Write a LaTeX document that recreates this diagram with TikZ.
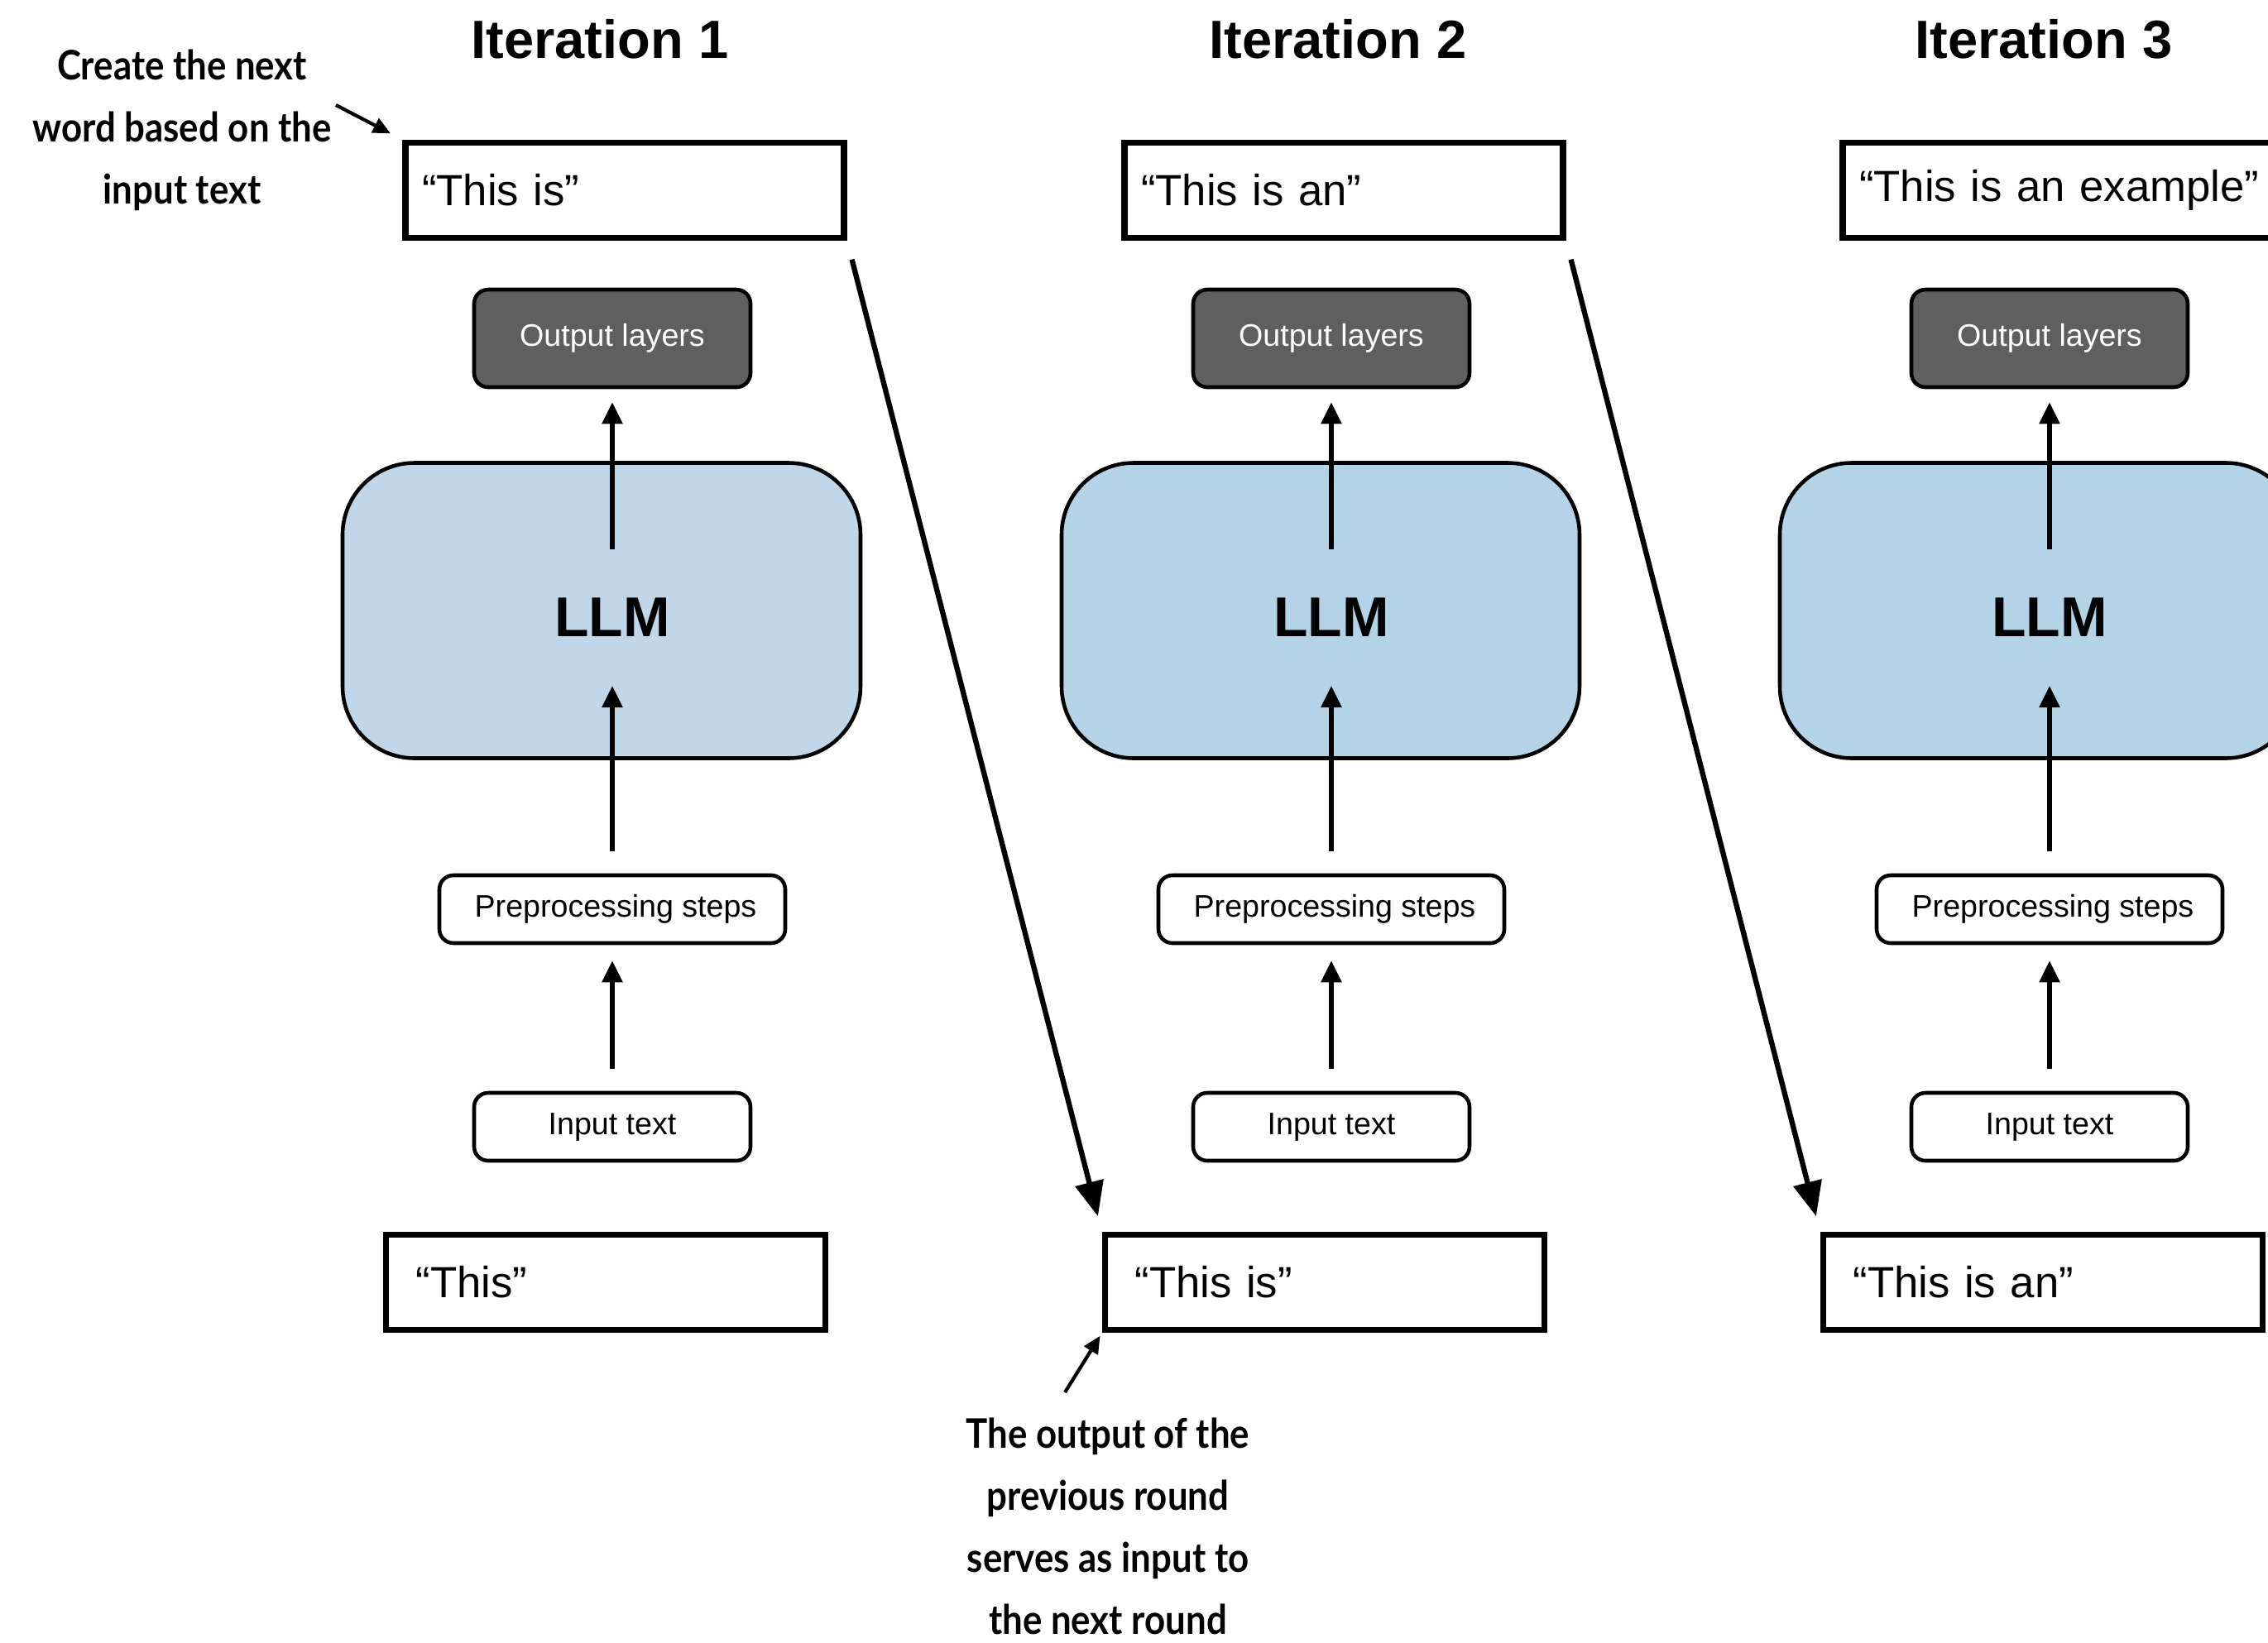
\documentclass[tikz,border=0pt]{standalone}
\usepackage{fontspec}
\setmainfont{Liberation Sans}
\newfontfamily\notefont[FakeStretch=0.89]{Lato}
\usetikzlibrary{positioning, arrows.meta}

\definecolor{llmblueA}{HTML}{BFD7E9}
\definecolor{llmblueB}{HTML}{B3D3E7}
\definecolor{outgray}{HTML}{5F5F5F}

\begin{document}
\begin{tikzpicture}[
        title/.style={font=\bfseries\fontsize{18.5}{22}\selectfont},
        textbox/.style={draw, line width=2.2pt, minimum height=1.15cm, text width=4.9cm, inner xsep=0.2cm, align=left, font=\fontsize{15}{18}\selectfont},
        botbox/.style={textbox, inner xsep=0.36cm, text width=4.59cm},
        outlayer/.style={draw, line width=1.3pt, rounded corners=0.17cm, fill=outgray, text=white, minimum width=3.34cm, minimum height=1.18cm, font=\fontsize{10.7}{13}\selectfont},
        llmbox/.style={draw, line width=1.3pt, rounded corners=0.87cm, minimum width=6.26cm, minimum height=3.57cm},
        llmlabel/.style={font=\bfseries\fontsize{19.3}{23}\selectfont},
        stepbox/.style={draw, line width=1.3pt, rounded corners=0.17cm, minimum height=0.82cm, font=\fontsize{10.7}{13}\selectfont},
        note/.style={align=center, font=\notefont\bfseries\fontsize{14}{21.3}\selectfont},
        arrow/.style={-{Triangle[length=0.26cm, width=0.24cm]}, line width=1.5pt},
        longarrow/.style={-{Triangle[length=0.42cm, width=0.34cm]}, line width=1.8pt},
        notearrow/.style={-{Triangle[length=0.21cm, width=0.19cm]}, line width=1.2pt}
    ]
    \clip (0,0) rectangle (27.41,-19.85);

    % one column per iteration
    \foreach \i/\cx/\tx/\topt/\bott/\fillc in {1/7.40/7.25/{“This is”}/{“This”}/llmblueA,
            2/16.09/16.17/{“This is an”}/{“This is”}/llmblueB,
            3/24.77/24.70/{“This is an example”}/{“This is an”}/llmblueB} {
        \node[title] (title\i) at (\tx, -0.47) {Iteration \i};
        \node[textbox] (top\i) at (\cx+0.15, -2.30) {\topt};
        \node[outlayer] (out\i) at (\cx, -4.09) {Output layers};
        \node[llmbox, fill=\fillc] (llm\i) at (\cx-0.13, -7.38) {};
        \node[llmlabel] (llmtxt\i) at (\cx, -7.46) {LLM};
        \node[stepbox, minimum width=4.18cm] (pre\i) at (\cx, -10.99) {\hspace*{0.08cm}Preprocessing steps};
        \node[stepbox, minimum width=3.34cm] (in\i) at (\cx, -13.62) {Input text};
        \node[botbox] (bot\i) at (\cx-0.08, -15.50) {\bott};

        \draw[arrow, shorten <=0.27cm, shorten >=0.19cm] (in\i) -- (pre\i);
        \draw[arrow, shorten <=0.27cm, shorten >=0.91cm] (pre\i.north) -- (pre\i.north |- llm\i.center);
        \draw[arrow, shorten <=0.74cm, shorten >=0.16cm] (out\i.south |- llm\i.center) -- (out\i);
    }

    % output of one round feeds the next
    \draw[longarrow, shorten <=0.23cm, shorten >=0.19cm] (top1.south east) -- (bot2.north west);
    \draw[longarrow, shorten <=0.23cm, shorten >=0.19cm] (top2.south east) -- (bot3.north west);

    % annotations
    \node[note] (nexttxt) at (2.20, -1.57) {Create the next\\word based on the\\input text};
    \node[note] (prevtxt) at (13.39, -18.45) {The output of the\\previous round\\serves as input to\\the next round};
    \coordinate (nextfrom) at (4.06, -1.27);
    \coordinate (prevfrom) at (12.87, -16.83);
    \draw[notearrow, shorten >=0.16cm] (nextfrom) -- (top1.north west);
    \draw[notearrow, shorten >=0.04cm] (prevfrom) -- (bot2.south west);

\end{tikzpicture}
\end{document}
